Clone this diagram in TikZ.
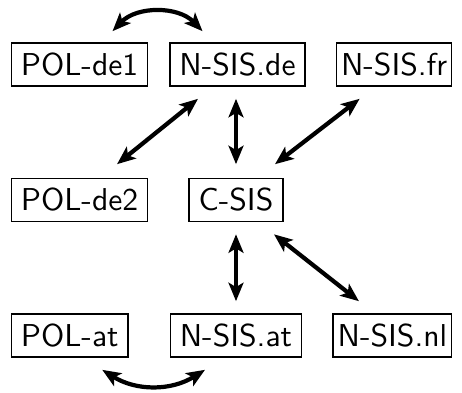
\documentclass[tikz,border=0pt]{standalone}
\usepackage{tikz}
\usetikzlibrary{arrows.meta, positioning, calc}
\tikzstyle{system} = [rectangle, draw=black, line width=0.85pt, font=\sffamily, inner xsep=3pt, inner ysep=3.1pt, scale=1.8]
\tikzstyle{narrow} = [inner xsep=1.4pt]
\tikzstyle{link} = [line width=2.4pt, <->, >={Stealth[length=10.5pt, width=8.5pt, inset=2.5pt]}]

\begin{document}
\begin{tikzpicture}
	\useasboundingbox (0,0) rectangle (9.24,-7.84);
	% nodes
	\node (pol-de1) [system, anchor=west] at (0.2,-1.29) {POL-de1};
	\node (nsis-de) [system] at (4.75,-1.29) {N-SIS.de};
	\node (nsis-fr) [system, narrow, anchor=east] at (9.06,-1.29) {N-SIS.fr};
	
	\node (pol-de2) [system, anchor=west] at (0.2,-4.0) {POL-de2};
	\node (csis) [system] at (4.72,-4.0) {C-SIS};
	
	\node (pol-at) [system, anchor=west] at (0.2,-6.71) {POL-at};
	\node (nsis-at) [system] at (4.72,-6.71) {N-SIS.at};
	\node (nsis-nl) [system, narrow, anchor=east] at (9.06,-6.71) {N-SIS.nl};
	
	% arrows
	\draw [link] ([xshift=0.66cm,yshift=0.21cm] pol-de1.north) to[bend left=46] ([xshift=-0.7cm,yshift=0.21cm] nsis-de.north);
	\draw [link] ([xshift=-0.79cm,yshift=-0.23cm] nsis-de.south) -- ([xshift=0.75cm,yshift=0.26cm] pol-de2.north);
	\draw [link] ([yshift=-0.23cm] nsis-de.south -| csis.north) -- ([yshift=0.26cm] csis.north);
	\draw [link] ([xshift=-0.69cm,yshift=-0.23cm] nsis-fr.south) -- ([xshift=0.78cm,yshift=0.26cm] csis.north);
	\draw [link] ([yshift=-0.23cm] csis.south) -- ([yshift=0.23cm] nsis-at.north);
	\draw [link] ([xshift=0.76cm,yshift=-0.23cm] csis.south) -- ([xshift=-0.67cm,yshift=0.23cm] nsis-nl.north);
	\draw [link] ([xshift=0.65cm,yshift=-0.23cm] pol-at.south) to[bend right=32] ([xshift=-0.62cm,yshift=-0.23cm] nsis-at.south);
\end{tikzpicture}
\end{document}
